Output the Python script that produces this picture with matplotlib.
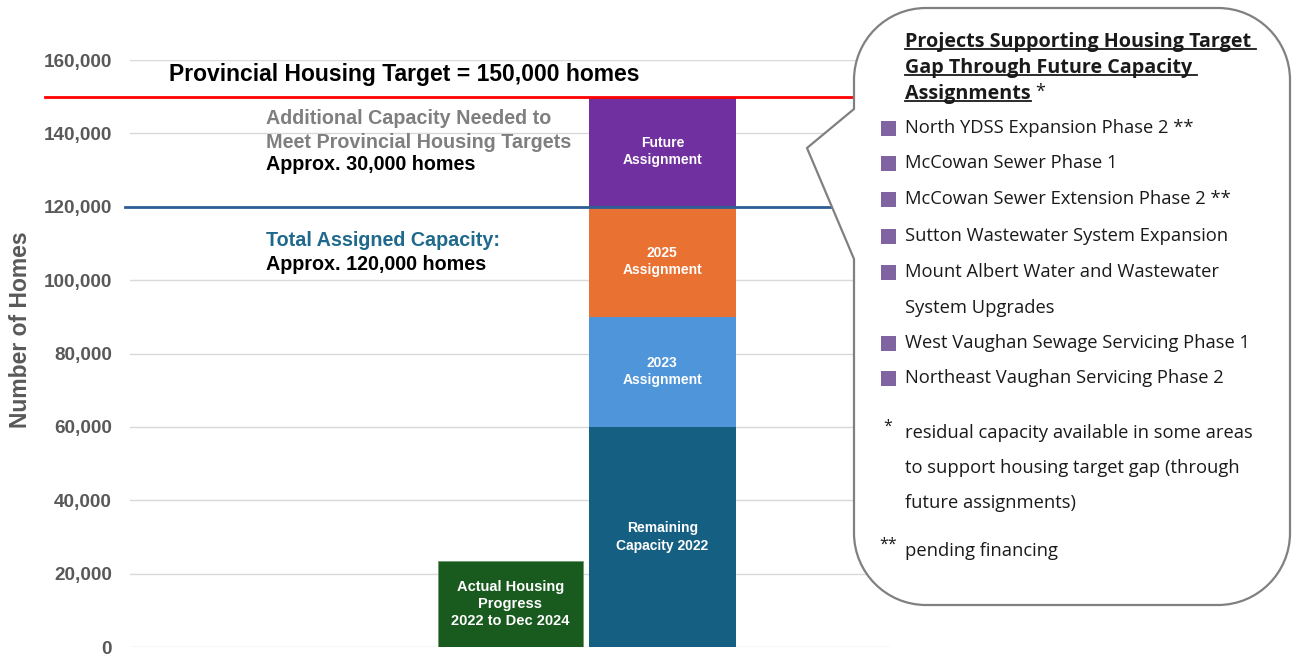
import matplotlib.pyplot as plt
import matplotlib.ticker as mticker
from matplotlib.path import Path
from matplotlib.patches import PathPatch
from matplotlib.lines import Line2D

# data
progress_label = 'Actual Housing\nProgress\n2022 to Dec 2024'
progress_value = 23500
segment_labels = ['Remaining\nCapacity 2022', '2023\nAssignment', '2025\nAssignment', 'Future\nAssignment']
segment_values = [60000, 30000, 30000, 30000]
segment_colors = ['#156082', '#4E95D9', '#E97132', '#7030A0']
target = 150000
assigned = 120000
y_ticks = [0, 20000, 40000, 60000, 80000, 100000, 120000, 140000, 160000]
projects = ['North YDSS Expansion Phase 2 **', 'McCowan Sewer Phase 1',
            'McCowan Sewer Extension Phase 2 **', 'Sutton Wastewater System Expansion',
            'Mount Albert Water and Wastewater\nSystem Upgrades',
            'West Vaughan Sewage Servicing Phase 1', 'Northeast Vaughan Servicing Phase 2']
header = ['Projects Supporting Housing Target ', 'Gap Through Future Capacity ', 'Assignments']
footnotes = [('*', 'residual capacity available in some areas\nto support housing target gap (through\nfuture assignments)'),
             ('**', 'pending financing')]

W, H = 1295, 654
fig = plt.figure(figsize=(W / 100, H / 100), dpi=100)

def fx(px):
    return px / W

def fy(py):
    return 1 - py / H

ax = fig.add_axes([fx(130), fy(647), fx(890) - fx(130), fy(60) - fy(647)])

# bars
ax.bar(0, progress_value, width=0.955, color='#195A1F', edgecolor='#6E9A6E', linewidth=0.6, zorder=2)
ax.text(0, progress_value / 2, progress_label, ha='center', va='center', color='white',
        fontsize=10.5, fontweight='bold', family='Liberation Sans', linespacing=1.25, zorder=3)
bottom = 0
for lab, val, col in zip(segment_labels, segment_values, segment_colors):
    ax.bar(1, val, bottom=bottom, width=0.965, color=col, zorder=2)
    ax.text(1, bottom + val / 2, lab, ha='center', va='center', color='white',
            fontsize=10, fontweight='bold', family='Liberation Sans', linespacing=1.3, zorder=3)
    bottom += val

ax.set_xlim(-2.5, 2.497)
ax.set_ylim(0, 160000)
ax.set_yticks(y_ticks)
ax.yaxis.set_major_formatter(mticker.StrMethodFormatter('{x:,.0f}'))
ax.tick_params(axis='y', length=0, pad=13, labelsize=13.6, labelcolor='#595959')
for t in ax.get_yticklabels():
    t.set_fontweight('bold')
    t.set_family('Liberation Sans')
ax.set_xticks([])
ax.grid(axis='y', color='#D9D9D9', linewidth=1, zorder=0)
for s in ax.spines.values():
    s.set_visible(False)

# target lines
ax.axhline(target, xmin=-0.112, xmax=1, color='#FF0000', linewidth=2, clip_on=False, zorder=4)
ax.axhline(assigned, xmin=-0.007, xmax=1, color='#2E5E96', linewidth=2, clip_on=False, zorder=4)

fig.text(fx(21), fy(330), 'Number of Homes', rotation=90, ha='center', va='center',
         fontsize=16.5, fontweight='bold', color='#595959', family='Liberation Sans')

fig.text(fx(169), fy(75), 'Provincial Housing Target = 150,000 homes', ha='left', va='center',
         fontsize=16.5, fontweight='bold', color='black', family='Liberation Sans')
notes = [('Additional Capacity Needed to', '#7F7F7F', 118),
         ('Meet Provincial Housing Targets', '#7F7F7F', 142),
         ('Approx. 30,000 homes', 'black', 165),
         ('Total Assigned Capacity:', '#1F6A8C', 240),
         ('Approx. 120,000 homes', 'black', 264)]
for txt, col, y in notes:
    fig.text(fx(266), fy(y), txt, ha='left', va='center', fontsize=14.2,
             fontweight='bold', color=col, family='Liberation Sans')

# callout bubble
L, R, T, B, r = 854, 1290, 8, 605, 72
k = 0.5523 * r
pts = [(L + r, T), (R - r, T), (R - r + k, T), (R, T + r - k), (R, T + r),
       (R, B - r), (R, B - r + k), (R - r + k, B), (R - r, B),
       (L + r, B), (L + r - k, B), (L, B - r + k), (L, B - r),
       (L, 259), (807, 148), (L, 109), (L, T + r),
       (L, T + r - k), (L + r - k, T), (L + r, T), (L + r, T)]
codes = [Path.MOVETO, Path.LINETO, Path.CURVE4, Path.CURVE4, Path.CURVE4,
         Path.LINETO, Path.CURVE4, Path.CURVE4, Path.CURVE4,
         Path.LINETO, Path.CURVE4, Path.CURVE4, Path.CURVE4,
         Path.LINETO, Path.LINETO, Path.LINETO, Path.LINETO,
         Path.CURVE4, Path.CURVE4, Path.CURVE4, Path.CLOSEPOLY]
bubble = Path([(fx(x), fy(y)) for x, y in pts], codes)
fig.patches.append(PathPatch(bubble, transform=fig.transFigure, facecolor='white',
                             edgecolor='#808080', linewidth=1.6, zorder=1))

font_b = 'Open Sans'
tcol = '#1A1A1A'
head_y = [42, 68, 94]
head_texts = []
for line, y in zip(header, head_y):
    head_texts.append(fig.text(fx(905), fy(y), line, ha='left', va='center', fontsize=14.2,
                               fontweight='bold', color=tcol, family=font_b, zorder=5))

item_y = [128, 163, 199, 236, 272, 343, 378]
for name, y in zip(projects, item_y):
    for i, part in enumerate(name.split('\n')):
        fig.text(fx(905), fy(y + i * 36), part, ha='left', va='center',
                 fontsize=13.2, color=tcol, family=font_b, zorder=5)
    fig.patches.append(plt.Rectangle((fx(881), fy(y + 8)), fx(15), fy(0) - fy(15),
                                     transform=fig.transFigure, facecolor='#8064A2',
                                     edgecolor='none', zorder=5))

foot_y = [433, 551]
for (mark, txt), y in zip(footnotes, foot_y):
    fig.text(fx(888), fy(y - 6), mark, ha='center', va='center', fontsize=11.5, color=tcol,
             family=font_b, zorder=5)
    for i, part in enumerate(txt.split('\n')):
        fig.text(fx(905), fy(y + i * 35), part, ha='left', va='center', fontsize=13.2,
                 color=tcol, family=font_b, zorder=5)

# underline header, star after last line
fig.canvas.draw()
rend = fig.canvas.get_renderer()
for t in head_texts:
    bb = t.get_window_extent(rend)
    yline = bb.y0 + 3
    fig.lines.append(Line2D([bb.x0, bb.x1], [yline, yline], transform=None,
                            color=tcol, linewidth=1.3, zorder=5))
bb = head_texts[-1].get_window_extent(rend)
fig.text(fx(bb.x1 + 5), fy(92), '*', ha='left', va='center', fontsize=13, color=tcol,
         family=font_b, zorder=5)

fig.savefig('out.png', dpi=100)
